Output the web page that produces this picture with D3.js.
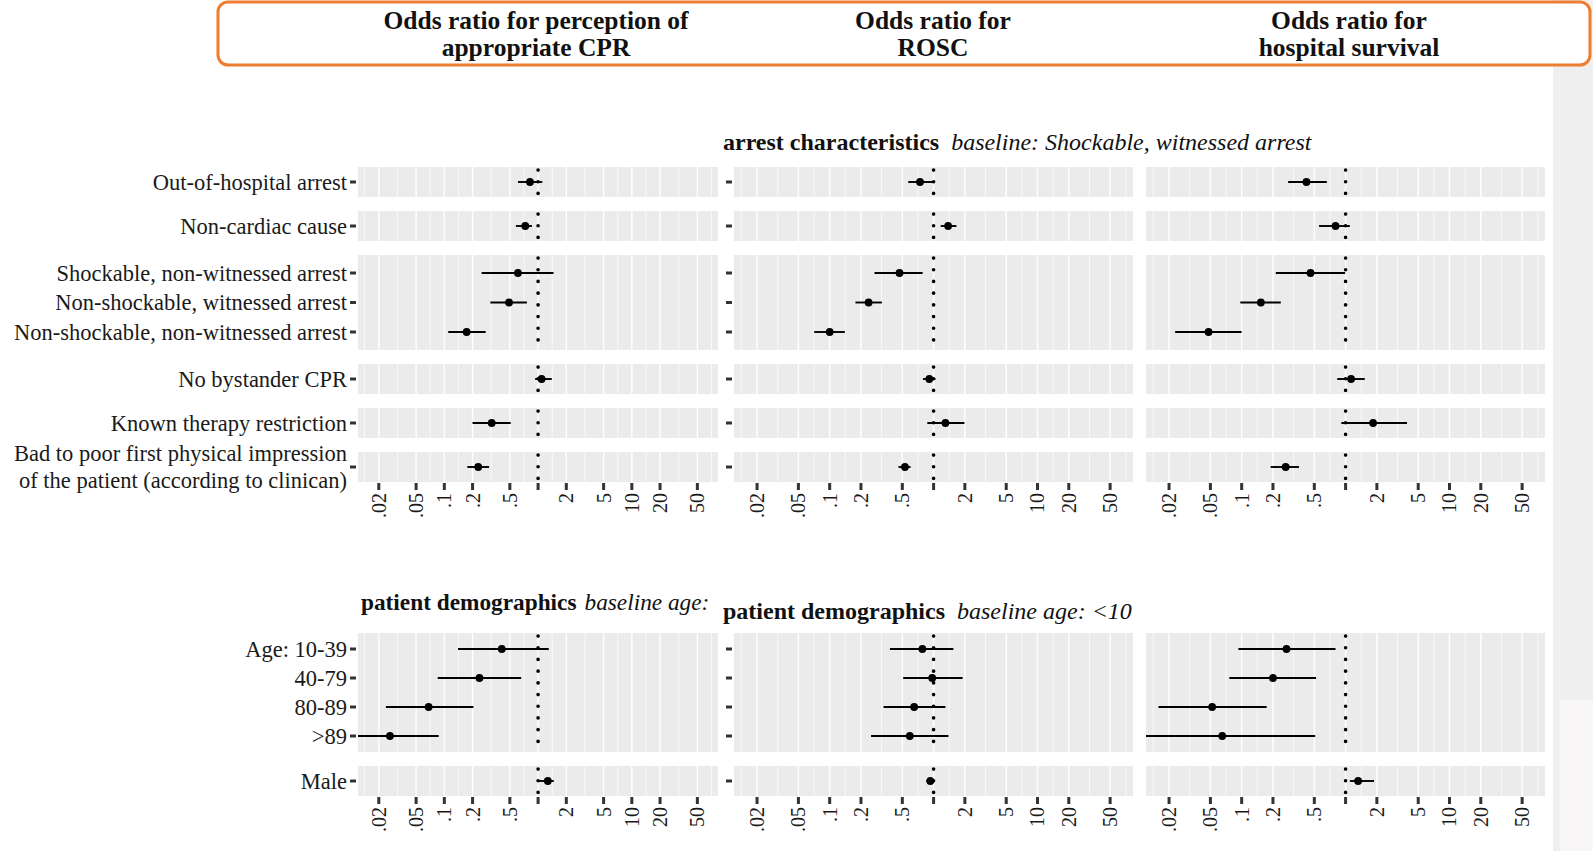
<!DOCTYPE html>
<html>
<head>
<meta charset="utf-8">
<script src="https://cdn.jsdelivr.net/npm/d3@7"></script>
<style>
  body { margin: 0; background: #fff; }
  svg text { font-family: "Liberation Serif", "DejaVu Serif", serif; }
</style>
</head>
<body>
<div id="chart"></div>
<script>
// row labels and how they are grouped into facet bands
const topLabels = ["Out-of-hospital arrest", "Non-cardiac cause", "Shockable, non-witnessed arrest",
  "Non-shockable, witnessed arrest", "Non-shockable, non-witnessed arrest", "No bystander CPR",
  "Known therapy restriction", "Bad to poor first physical impression\nof the patient (according to clinican)"];
const topGroups = [1, 1, 3, 1, 1, 1];
const bottomLabels = ["Age: 10-39", "40-79", "80-89", ">89", "Male"];
const bottomGroups = [4, 1];

// odds ratios (point, lower, upper)
const cprOR = [0.82, 0.73, 0.61, 0.49, 0.173, 1.09, 0.32, 0.23];
const cprLo = [0.61, 0.58, 0.25, 0.31, 0.11, 0.93, 0.20, 0.176];
const cprHi = [1.11, 0.86, 1.46, 0.76, 0.276, 1.40, 0.51, 0.30];
const roscOR = [0.74, 1.38, 0.47, 0.237, 0.10, 0.91, 1.30, 0.53];
const roscLo = [0.57, 1.17, 0.27, 0.177, 0.071, 0.79, 0.87, 0.46];
const roscHi = [0.98, 1.66, 0.785, 0.318, 0.14, 1.04, 1.98, 0.60];
const survOR = [0.42, 0.80, 0.46, 0.153, 0.048, 1.13, 1.84, 0.265];
const survLo = [0.28, 0.555, 0.213, 0.097, 0.0229, 0.83, 0.91, 0.19];
const survHi = [0.66, 1.10, 0.99, 0.238, 0.0998, 1.53, 3.9, 0.356];

const cprAgeOR = [0.41, 0.237, 0.068, 0.0263, 1.27];
const cprAgeLo = [0.14, 0.085, 0.0238, 0.005, 1.01];
const cprAgeHi = [1.30, 0.66, 0.204, 0.087, 1.47];
const roscAgeOR = [0.78, 0.97, 0.65, 0.59, 0.93];
const roscAgeLo = [0.38, 0.51, 0.33, 0.25, 0.85];
const roscAgeHi = [1.55, 1.90, 1.30, 1.39, 1.01];
const survAgeOR = [0.27, 0.20, 0.052, 0.065, 1.32];
const survAgeLo = [0.093, 0.076, 0.0158, 0.005, 1.10];
const survAgeHi = [0.80, 0.52, 0.174, 0.51, 1.88];

const oddsTicks = [0.02, 0.05, 0.1, 0.2, 0.5, 1, 2, 5, 10, 20, 50];
const oddsTickLabels = [".02", ".05", ".1", ".2", ".5", "", "2", "5", "10", "20", "50"];

const headerTitles = [["Odds ratio for perception of", "appropriate CPR"], ["Odds ratio for", "ROSC"], ["Odds ratio for", "hospital survival"]];

const W = 1593, H = 851;
const svg = d3.select("#chart").append("svg").attr("width", W).attr("height", H);

// background strip at the right edge of the screenshot
svg.append("rect").attr("x", 1553).attr("y", 0).attr("width", 40).attr("height", H).attr("fill", "#efefef");
svg.append("rect").attr("x", 1560).attr("y", 700).attr("width", 33).attr("height", 151).attr("fill", "#f8f6f6");

// orange header box
svg.append("rect").attr("x", 218).attr("y", 2).attr("width", 1372).attr("height", 63)
  .attr("rx", 10).attr("fill", "#fff").attr("stroke", "#ED7D31").attr("stroke-width", 3);

const panelX = [[358, 718], [734, 1133], [1146, 1545]];
const headerCx = [536, 933, 1349];
headerTitles.forEach((t, i) => {
  svg.append("text").attr("x", headerCx[i]).attr("y", 29).attr("text-anchor", "middle")
    .attr("font-size", 25.5).attr("font-weight", "bold").attr("fill", "#111").text(t[0]);
  svg.append("text").attr("x", headerCx[i]).attr("y", 56).attr("text-anchor", "middle")
    .attr("font-size", 25.5).attr("font-weight", "bold").attr("fill", "#111").text(t[1]);
});

function sectionTitle(x, y, size, gap, bold, ital) {
  const t = svg.append("text").attr("x", x).attr("y", y).attr("font-size", size).attr("fill", "#111");
  t.append("tspan").attr("font-weight", "bold").text(bold);
  t.append("tspan").attr("font-style", "italic").attr("dx", gap).text(ital);
}
sectionTitle(723, 150, 24, 12, "arrest characteristics", "baseline: Shockable, witnessed arrest");
sectionTitle(361, 610, 23.3, 8, "patient demographics", "baseline age:");
sectionTitle(723, 619, 24, 12, "patient demographics", "baseline age: <10");

// build one block of facets (rows grouped into bands) for the three outcomes
function drawBlock(y0, gap, step, pad, labels, groups, series, yTicksPanel) {
  // band layout
  let bands = [], idx = 0, y = y0;
  groups.forEach(n => {
    const h = n === 1 ? 30 : (n - 1) * step + 2 * pad;
    bands.push({ y: y, h: h, rows: d3.range(idx, idx + n) });
    idx += n; y += h + gap;
  });
  const bottom = y - gap;

  series.forEach((s, p) => {
    const [x0, x1] = panelX[p];
    const x = d3.scaleLog().domain([0.012, 83]).range([x0, x1]).clamp(true);
    const g = svg.append("g");
    const minor = d3.range(oddsTicks.length - 1).map(i => Math.sqrt(oddsTicks[i] * oddsTicks[i + 1]));
    minor.unshift(0.0141); minor.push(70.7);

    bands.forEach(b => {
      const n = b.rows.length;
      const yb = d3.scalePoint().domain(b.rows).range([b.y, b.y + b.h])
        .padding(n === 1 ? 0.5 : pad / step);
      g.append("rect").attr("x", x0).attr("y", b.y).attr("width", x1 - x0).attr("height", b.h).attr("fill", "#EBEBEB");
      g.selectAll(null).data(minor).join("line")
        .attr("x1", d => x(d)).attr("x2", d => x(d)).attr("y1", b.y).attr("y2", b.y + b.h)
        .attr("stroke", "#fff").attr("stroke-width", 0.7);
      g.selectAll(null).data(oddsTicks).join("line")
        .attr("x1", d => x(d)).attr("x2", d => x(d)).attr("y1", b.y).attr("y2", b.y + b.h)
        .attr("stroke", "#fff").attr("stroke-width", 1.4);
      // reference line at OR = 1
      g.append("line").attr("x1", x(1)).attr("x2", x(1)).attr("y1", b.y + 3).attr("y2", b.y + b.h)
        .attr("stroke", "#000").attr("stroke-width", 3.6).attr("stroke-linecap", "round")
        .attr("stroke-dasharray", "0.1 11.6");
      // confidence intervals and points
      g.selectAll(null).data(b.rows).join("line")
        .attr("x1", r => x(s.lo[r])).attr("x2", r => x(s.hi[r]))
        .attr("y1", r => yb(r)).attr("y2", r => yb(r))
        .attr("stroke", "#000").attr("stroke-width", 1.9);
      g.selectAll(null).data(b.rows).join("circle")
        .attr("cx", r => x(s.or[r])).attr("cy", r => yb(r)).attr("r", 3.9).attr("fill", "#000");
      // y ticks and labels
      if (yTicksPanel[p]) {
        g.selectAll(null).data(b.rows).join("line")
          .attr("x1", x0 - 8).attr("x2", x0 - 2).attr("y1", r => yb(r)).attr("y2", r => yb(r))
          .attr("stroke", "#333").attr("stroke-width", 3);
      }
      if (p === 0) {
        b.rows.forEach(r => {
          const lines = labels[r].split("\n");
          const t = g.append("text").attr("x", x0 - 11).attr("y", yb(r)).attr("text-anchor", "end")
            .attr("font-size", 22.5).attr("fill", "#1a1a1a");
          lines.forEach((ln, li) => {
            t.append("tspan").attr("x", x0 - 11)
              .attr("dy", li === 0 ? (0.35 - (lines.length - 1) * 0.6) + "em" : "1.2em").text(ln);
          });
        });
      }
    });

    // x axis ticks and rotated labels
    g.selectAll(null).data(oddsTicks).join("line")
      .attr("x1", d => x(d)).attr("x2", d => x(d)).attr("y1", bottom + 1).attr("y2", bottom + 8)
      .attr("stroke", "#333").attr("stroke-width", 3);
    g.selectAll(null).data(oddsTicks).join("text")
      .attr("transform", d => `translate(${x(d)},${bottom + 11}) rotate(-90)`)
      .attr("text-anchor", "end").attr("dy", "0.35em")
      .attr("font-size", 20).attr("fill", "#1a1a1a")
      .text((d, i) => oddsTickLabels[i]);
  });
}

drawBlock(167, 14, 29.5, 18, topLabels, topGroups, [
  { or: cprOR, lo: cprLo, hi: cprHi },
  { or: roscOR, lo: roscLo, hi: roscHi },
  { or: survOR, lo: survLo, hi: survHi }
], [true, true, false]);

drawBlock(633, 14, 29, 16, bottomLabels, bottomGroups, [
  { or: cprAgeOR, lo: cprAgeLo, hi: cprAgeHi },
  { or: roscAgeOR, lo: roscAgeLo, hi: roscAgeHi },
  { or: survAgeOR, lo: survAgeLo, hi: survAgeHi }
], [true, true, false]);
</script>
</body>
</html>
